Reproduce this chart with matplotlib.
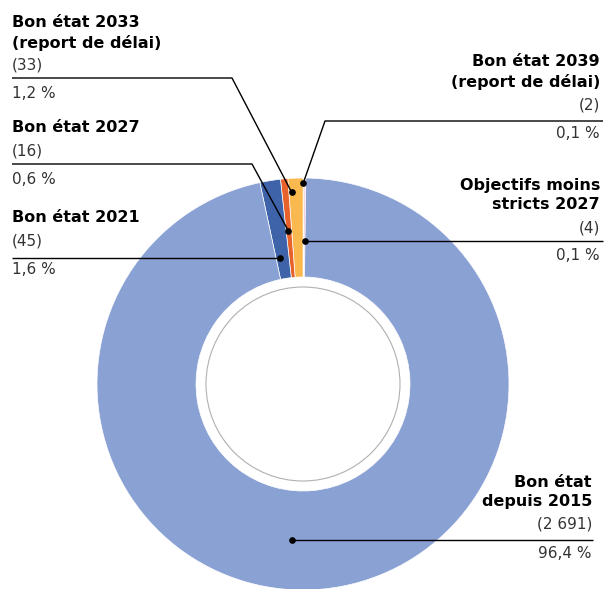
import numpy as np
import matplotlib
matplotlib.use("Agg")
import matplotlib.pyplot as plt
from matplotlib.patches import Circle

# nombre de masses d'eau par échéance d'atteinte du bon état
categories = ["Objectifs moins\nstricts 2027", "Bon état 2039\n(report de délai)",
              "Bon état 2033\n(report de délai)", "Bon état 2027", "Bon état 2021",
              "Bon état\ndepuis 2015"]
counts = [4, 2, 33, 16, 45, 2691]
counts_txt = ["(4)", "(2)", "(33)", "(16)", "(45)", "(2 691)"]
shares_txt = ["0,1 %", "0,1 %", "1,2 %", "0,6 %", "1,6 %", "96,4 %"]
colors = ["#F3B7CF", "#EF8A3E", "#F9B94F", "#E8622B", "#3F63A8", "#8AA1D4"]

W, H = 604, 589
CX, CY, R_OUT, R_IN = 303, H - 384, 206, 107
START = 89.2

fig = plt.figure(figsize=(W / 100, H / 100), dpi=100)
ax = fig.add_axes([0, 0, 1, 1])

wedges, _ = ax.pie(counts, colors=colors, startangle=START, counterclock=True,
                   center=(CX, CY), radius=R_OUT,
                   wedgeprops=dict(width=R_OUT - R_IN, edgecolor="white", linewidth=0.5))
ax.add_patch(Circle((CX, CY), 97, fill=False, edgecolor="#b0b0b0", lw=0.8))
# pie() resets the limits, pixel grid set afterwards
ax.set_xlim(0, W); ax.set_ylim(0, H); ax.set_aspect("equal"); ax.axis("off")


def anchor(i, r, frac):
    # point inside wedge i at radius r, frac of the way from theta1 to theta2
    w = wedges[i]
    th = np.deg2rad(w.theta1 + frac * (w.theta2 - w.theta1))
    return CX + r * np.cos(th), CY + r * np.sin(th)


BOLD = dict(fontsize=11.5, fontweight="bold", color="black", family="DejaVu Sans")
LIGHT = dict(fontsize=11, color="#333333", family="DejaVu Sans")

# (index, anchor radius, frac, side, x text, y name, y count, y line, y share, elbow x)
layout = [
    (0, 143, 0.2, "right", 600, 195, 228, 241, 256, None),
    (1, 201, 0.8, "right", 600, 72, 105, 121, 134, 325),
    (2, 192, 0.8, "left", 12, 33, 65, 78, 94, 232),
    (3, 154, 0.6, "left", 12, 128, 151, 164, 179, 252),
    (4, 127, 0.75, "left", 12, 217, 241, 258, 269, None),
    (5, 156, 0.472, "right", 592, 492, 524, 540, 553, None),
]

for i, r, frac, side, tx, y_name, y_cnt, y_line, y_shr, elbow in layout:
    ha = "left" if side == "left" else "right"
    ax.text(tx, H - y_name, categories[i], ha=ha, va="center", linespacing=1.35, **BOLD)
    ax.text(tx, H - y_cnt, counts_txt[i], ha=ha, va="center", **LIGHT)
    ax.text(tx, H - y_shr, shares_txt[i], ha=ha, va="center", **LIGHT)
    px, py = anchor(i, r, frac)
    end = 12 if side == "left" else (603 if i != 5 else 593)
    if elbow is None:
        py = H - y_line
        xs, ys = [px, end], [py, py]
    else:
        xs, ys = [px, elbow, end], [py, H - y_line, H - y_line]
    ax.plot(xs, ys, color="black", lw=1.0, solid_capstyle="butt")
    ax.plot([px], [py], "o", color="black", ms=3.8)

fig.savefig("out.png", dpi=100)
